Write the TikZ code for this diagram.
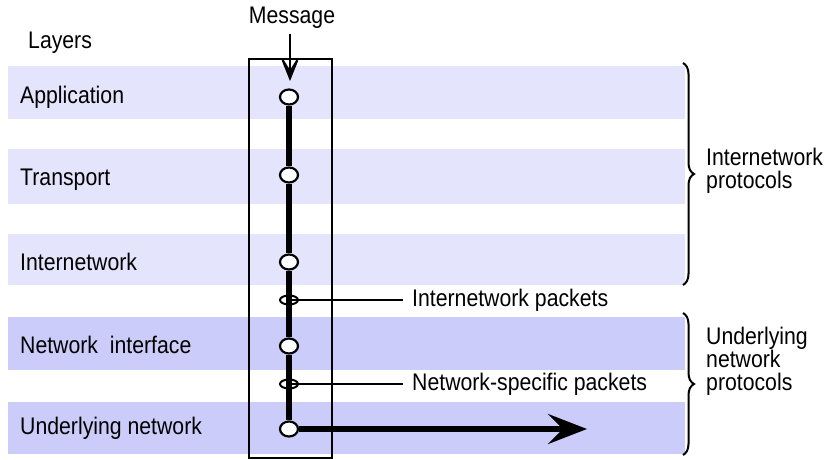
\documentclass[tikz,border=0pt]{standalone}
\usepackage{fontspec}
\setmainfont[FakeStretch=0.885]{Liberation Sans}
\usetikzlibrary{arrows.meta,shapes.geometric,decorations.pathreplacing}

\definecolor{bandup}{RGB}{228,228,252}
\definecolor{banddown}{RGB}{204,204,250}

\begin{document}
\begin{tikzpicture}[x=1pt,y=-1pt,
    font=\fontsize{24}{27}\selectfont,
    lbl/.style={anchor=west,inner sep=0pt},
    stage/.style={ellipse,draw,fill=white,line width=2.2pt,minimum width=18pt,minimum height=15pt,inner sep=0pt},
    pkt/.style={ellipse,draw,fill=white,line width=2pt,minimum width=18pt,minimum height=9pt,inner sep=0pt},
    path/.style={line width=5.5pt},
    brc/.style={decorate,decoration={brace,amplitude=11pt},line width=2pt}]
  \useasboundingbox (0,0) rectangle (831,460);

  % layer bands
  \fill[bandup] (8,66) rectangle (685,119);
  \fill[bandup] (8,149) rectangle (685,204);
  \fill[bandup] (8,234) rectangle (685,285);
  \fill[banddown] (8,317) rectangle (685,370);
  \fill[banddown] (8,402) rectangle (685,454);

  \node[lbl] (layers) at (28,43) {Layers};
  \node[lbl] (lapp) at (20,97) {Application};
  \node[lbl] (ltra) at (20,180) {Transport};
  \node[lbl] (linw) at (20,262) {Internetwork};
  \node[lbl] (lnif) at (20,345) {Network\ \ interface};
  \node[lbl] (lunw) at (20,428) {Underlying network};

  % host box
  \node[draw,line width=2.5pt,minimum width=83pt,minimum height=399pt,inner sep=0pt] (host) at (290.5,258.5) {};

  \node (msg) at (292,18) {Message};
  \coordinate (msgend) at (290,81);
  \draw[line width=2pt,-{Stealth[length=31pt,width=25pt,inset=20pt]}] (msg.south) ++(-2,2) -- (msgend);

  % stages on the way down
  \node[stage] (app) at (289,97) {};
  \node[stage] (tra) at (289,175) {};
  \node[stage] (inw) at (289,262) {};
  \node[stage] (nif) at (289,346) {};
  \node[stage] (unw) at (289,429) {};
  \node[pkt] (ipk) at (289,300) {};
  \node[pkt] (npk) at (289,384) {};

  \node[lbl] (ipktxt) at (412,300) {Internetwork packets};
  \node[lbl] (npktxt) at (412,384) {Network-specific packets};
  \draw[line width=2.2pt] (ipk.center) -- ([xshift=-9pt]ipktxt.west);
  \draw[line width=2.2pt] (npk.center) -- ([xshift=-9pt]npktxt.west);

  \draw[path] (app) -- (tra);
  \draw[path] (tra) -- (inw);
  \draw[path] (inw) -- (nif);
  \draw[path] (nif) -- (unw);
  \coordinate (out) at (587,429);
  \draw[path,-{Stealth[length=39pt,width=30pt,inset=15pt]}] (unw) -- (out);

  % protocol groups
  \coordinate (bu1) at (683,63);
  \coordinate (bu2) at (683,285);
  \coordinate (bl1) at (683,313);
  \coordinate (bl2) at (683,455);
  \draw[brc] (bu1) -- (bu2);
  \draw[brc] (bl1) -- (bl2);
  \node[lbl,align=left,font=\fontsize{24}{23}\selectfont] (inwprot) at (706,171) {Internetwork\\protocols};
  \node[lbl,align=left,font=\fontsize{24}{23}\selectfont] (unwprot) at (706,361) {Underlying\\network\\protocols};
\end{tikzpicture}
\end{document}
